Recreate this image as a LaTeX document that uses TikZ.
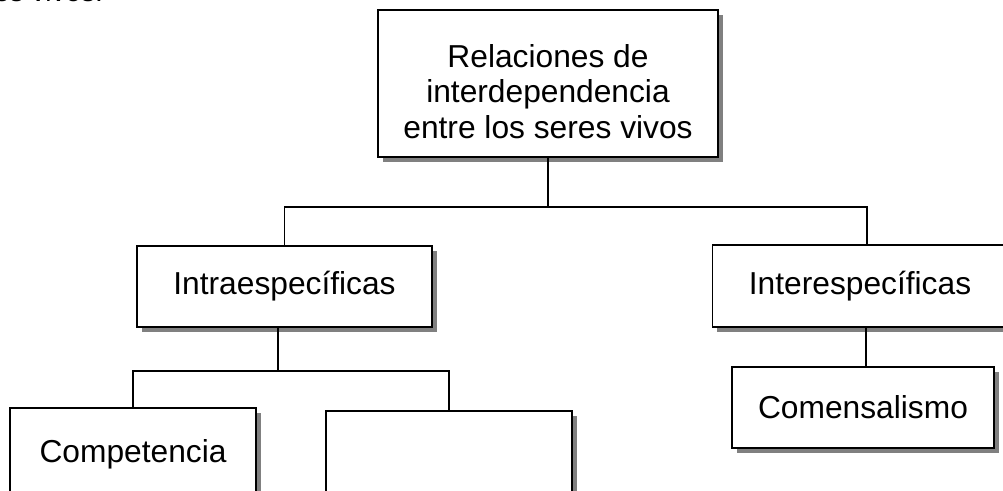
\documentclass[tikz,border=0pt]{standalone}
\usepackage{fontspec}
\setmainfont{Liberation Sans}
\usetikzlibrary{calc,shadows}

\begin{document}
\begin{tikzpicture}[x=0.75pt,y=-0.75pt,line width=1.4pt,
        box/.style={draw,fill=white,align=center,inner sep=0pt,
            font=\fontsize{23.8}{26.6}\selectfont,
            drop shadow={shadow xshift=3.4pt,shadow yshift=-3.4pt,fill=black!50,opacity=1}}]
        % Page frame
        \useasboundingbox (0,0) rectangle (1003,490);
        \clip (0,0) rectangle (1003,490);
        % End of the sentence above
        \node[anchor=base east,inner sep=0pt,font=\fontsize{21}{25}\selectfont] (tail) at (104,1.5) {seres vivos.};
        % Boxes
        \node[box,minimum width=255pt,minimum height=110.25pt] (rel) at (548,83.5)
            {\rule{0pt}{29pt}Relaciones de\\interdependencia\\entre los seres vivos};
        \node[box,minimum width=221.25pt,minimum height=60.75pt] (intra) at (284.5,286.5) {Intraespecíficas};
        \node[box,minimum width=221.25pt,minimum height=61.5pt] (inter) at (860,286) {Interespecíficas};
        \node[box,minimum width=196.5pt,minimum height=60.75pt] (com) at (863,407.5) {Comensalismo};
        \node[box,minimum width=184.5pt,minimum height=69.75pt] (comp) at (133,454.5) {Competencia};
        \node[box,minimum width=184.5pt,minimum height=69.75pt] (blank) at (449,457.5) {};
        % Links
        \draw (rel.south) -- ++(0,49) coordinate (top);
        \draw (intra.north) |- (top) -| ([xshift=5.25pt]inter.north);
        \draw ([xshift=-4.9pt]intra.south) -- ++(0,43) coordinate (mid);
        \draw (comp.north) |- (mid) -| (blank.north);
        \draw ([xshift=4.5pt]inter.south) coordinate (s) -- (s |- com.north);
    \end{tikzpicture}
\end{document}
